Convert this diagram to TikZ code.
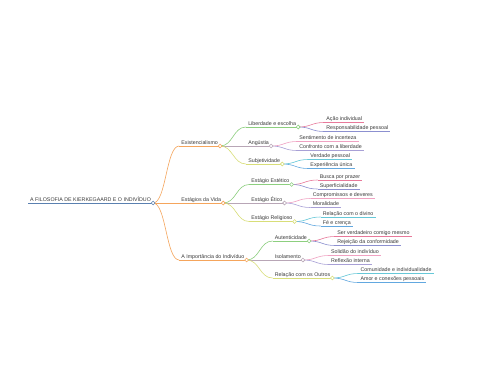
\documentclass[tikz,border=0pt]{standalone}
\usepackage{fontspec}
\setmainfont{Liberation Sans}
\definecolor{textgray}{HTML}{3A3A3A}
\definecolor{cRoot}{HTML}{5A80B0}
\definecolor{cOr}{HTML}{F5A55C}
\definecolor{cGr}{HTML}{8DCF7F}
\definecolor{cMv}{HTML}{B8A6B6}
\definecolor{cYl}{HTML}{D8DE78}
\definecolor{cRd}{HTML}{E8799A}
\definecolor{cSb}{HTML}{8C90D0}
\definecolor{cPk}{HTML}{F0A2C2}
\definecolor{cLv}{HTML}{A8A0D6}
\definecolor{cCy}{HTML}{66C8D8}
\definecolor{cBl}{HTML}{62A8E0}
\tikzset{
  lbl/.style={font=\fontsize{5.3}{6}\selectfont, text=textgray, inner sep=0pt},
  dot/.style={circle, draw=#1, fill=white, line width=0.6pt, inner sep=0pt, minimum size=3.8pt},
  ln/.style={draw=#1, line width=0.6pt},
}
% #1 name, #2 parent, #3 dy, #4 colour, #5 text
\newcommand{\mmn}[5]{%
  \coordinate (#1-s) at ([shift={(26,#3)}]#2-e);
  \node[lbl, anchor=base west] (#1) at ([shift={(2,-1.8)}]#1-s) {#5};
  \coordinate (#1-e) at ([shift={(2,1.8)}]#1.base east);
  \draw[ln=#4] (#1-s) -- (#1-e);
  \draw[ln=#4] (#2-e) .. controls +(13,0) and +(-13,0) .. (#1-s);
}
\begin{document}
\begin{tikzpicture}[x=1pt,y=-1pt]
\useasboundingbox[fill=white] (0,0) rectangle (480,384);
% root
\coordinate (r-s) at (28,203);
\node[lbl, anchor=base west] (r) at ([shift={(2,-1.8)}]r-s) {A FILOSOFIA DE KIERKEGAARD E O INDIVÍDUO};
\coordinate (r-e) at ([shift={(2,1.8)}]r.base east);
\draw[ln=cRoot, line width=0.8pt] (r-s) -- (r-e);
% level 1
\mmn{a}{r}{-57}{cOr}{Existencialismo}
\mmn{b}{r}{0}{cOr}{Estágios da Vida}
\mmn{c}{r}{57}{cOr}{A Importância do Indivíduo}
% level 2
\mmn{a1}{a}{-19}{cGr}{Liberdade e escolha}
\mmn{a2}{a}{0}{cMv}{Angústia}
\mmn{a3}{a}{18}{cYl}{Subjetividade}
\mmn{b1}{b}{-18.5}{cGr}{Estágio Estético}
\mmn{b2}{b}{0}{cMv}{Estágio Ético}
\mmn{b3}{b}{18.5}{cYl}{Estágio Religioso}
\mmn{c1}{c}{-19}{cGr}{Autenticidade}
\mmn{c2}{c}{0}{cMv}{Isolamento}
\mmn{c3}{c}{18}{cYl}{Relação com os Outros}
% level 3
\mmn{a1x}{a1}{-4.5}{cRd}{Ação individual}
\mmn{a1y}{a1}{4.5}{cSb}{Responsabilidade pessoal}
\mmn{a2x}{a2}{-4.5}{cPk}{Sentimento de incerteza}
\mmn{a2y}{a2}{4.5}{cLv}{Confronto com a liberdade}
\mmn{a3x}{a3}{-4.5}{cCy}{Verdade pessoal}
\mmn{a3y}{a3}{4.5}{cBl}{Experiência única}
\mmn{b1x}{b1}{-4.5}{cRd}{Busca por prazer}
\mmn{b1y}{b1}{4.5}{cSb}{Superficialidade}
\mmn{b2x}{b2}{-4.5}{cPk}{Compromissos e deveres}
\mmn{b2y}{b2}{4.5}{cLv}{Moralidade}
\mmn{b3x}{b3}{-4.5}{cCy}{Relação com o divino}
\mmn{b3y}{b3}{4.5}{cBl}{Fé e crença}
\mmn{c1x}{c1}{-4.5}{cRd}{Ser verdadeiro comigo mesmo}
\mmn{c1y}{c1}{4.5}{cSb}{Rejeição da conformidade}
\mmn{c2x}{c2}{-4.5}{cPk}{Solidão do indivíduo}
\mmn{c2y}{c2}{4.5}{cLv}{Reflexão interna}
\mmn{c3x}{c3}{-4.5}{cCy}{Comunidade e individualidade}
\mmn{c3y}{c3}{4.5}{cBl}{Amor e conexões pessoais}
% dots
\node[dot=cRoot] (r-dot) at (r-e) {};
\node[dot=cOr] (a-dot) at (a-e) {};
\node[dot=cOr] (b-dot) at (b-e) {};
\node[dot=cOr] (c-dot) at (c-e) {};
\node[dot=cGr] (a1-dot) at (a1-e) {};
\node[dot=cMv] (a2-dot) at (a2-e) {};
\node[dot=cYl] (a3-dot) at (a3-e) {};
\node[dot=cGr] (b1-dot) at (b1-e) {};
\node[dot=cMv] (b2-dot) at (b2-e) {};
\node[dot=cYl] (b3-dot) at (b3-e) {};
\node[dot=cGr] (c1-dot) at (c1-e) {};
\node[dot=cMv] (c2-dot) at (c2-e) {};
\node[dot=cYl] (c3-dot) at (c3-e) {};
\end{tikzpicture}
\end{document}
